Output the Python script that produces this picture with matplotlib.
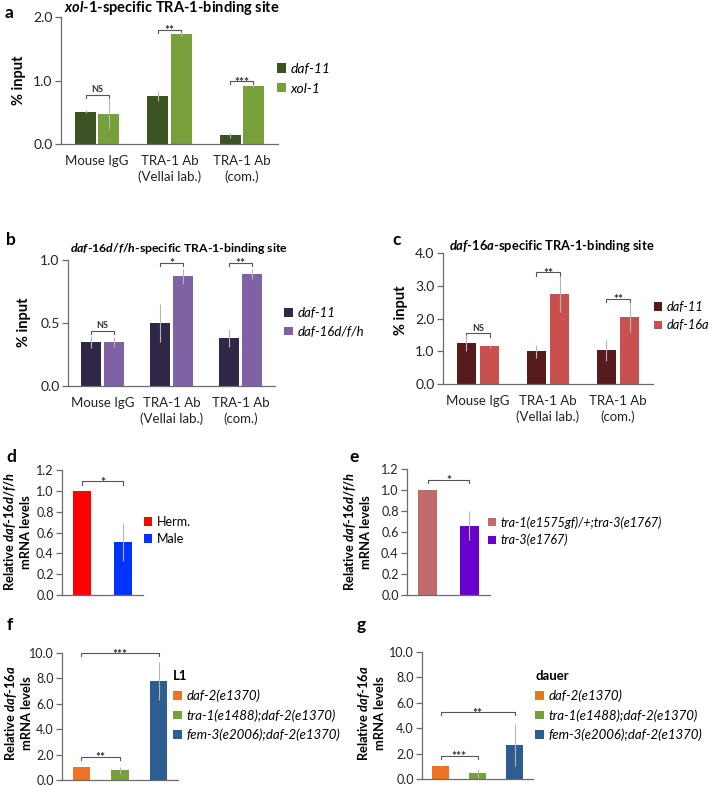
import matplotlib
matplotlib.use("Agg")
import matplotlib.pyplot as plt
from matplotlib.patches import Patch
import numpy as np

plt.rcParams['font.family'] = ['Lato', 'DejaVu Sans']
plt.rcParams['mathtext.fontset'] = 'custom'
plt.rcParams['mathtext.rm'] = 'Lato:bold'
plt.rcParams['mathtext.bf'] = 'Lato:bold'
plt.rcParams['mathtext.it'] = 'Lato:italic:bold'

W, H = 709, 786

# ---- data ----
chip_groups = ["Mouse IgG", "TRA-1 Ab\n(Vellai lab.)", "TRA-1 Ab\n(com.)"]

# a: xol-1 site
a_daf11 = [0.51, 0.75, 0.14]
a_daf11_err = [0.02, 0.08, 0.04]
a_xol1 = [0.48, 1.73, 0.92]
a_xol1_err = [0.24, 0.03, 0.03]
a_sig = ["NS", "**", "***"]
a_sig_y = [0.77, 1.80, 0.99]

# b: daf-16d/f/h site
b_daf11 = [0.35, 0.50, 0.38]
b_daf11_err = [0.05, 0.15, 0.07]
b_daf16 = [0.35, 0.87, 0.89]
b_daf16_err = [0.04, 0.06, 0.04]
b_sig = ["NS", "*", "**"]
b_sig_y = [0.435, 0.98, 0.98]

# c: daf-16a site
c_daf11 = [1.25, 1.00, 1.03]
c_daf11_err = [0.25, 0.20, 0.32]
c_daf16a = [1.15, 2.75, 2.05]
c_daf16a_err = [0.05, 0.55, 0.45]
c_sig = ["NS", "**", "**"]
c_sig_y = [1.55, 3.41, 2.61]

# d: herm vs male
d_labels = ["Herm.", "Male"]
d_vals = [1.0, 0.51]
d_err = [0.0, 0.18]
d_sig_y = 1.09

# e: tra-1 gf
e_labels = ["tra-1(e1575gf)/+;tra-3(e1767)", "tra-3(e1767)"]
e_vals = [1.0, 0.66]
e_err = [0.0, 0.14]
e_sig_y = 1.10

# f, g: daf-16a mRNA
fg_labels = ["daf-2(e1370)", "tra-1(e1488);daf-2(e1370)", "fem-3(e2006);daf-2(e1370)"]
f_vals = [1.0, 0.75, 7.8]
f_err = [0.0, 0.30, 1.5]
f_sig = [("**", 0, 1, 1.83), ("***", 0, 2, 10.0)]
g_vals = [1.0, 0.45, 2.7]
g_err = [0.05, 0.35, 1.65]
g_sig = [("***", 0, 1, 1.84), ("**", 0, 2, 5.28)]

AXC = '#6b6b6b'
ERRC = '#b5b5b5'


def px_axes(fig, left, top, right, bottom):
    return fig.add_axes([left / W, 1 - bottom / H, (right - left) / W, (bottom - top) / H])


def style(ax, ymax, step, ncat, fs=10):
    ax.set_ylim(0, ymax)
    ax.set_xlim(-0.5, ncat - 0.5)
    ticks = np.arange(0, ymax + step / 2, step)
    ax.set_yticks(ticks)
    ax.set_yticklabels(["%.1f" % v for v in ticks], fontsize=fs, color='#222222')
    for s in ['top', 'right']:
        ax.spines[s].set_visible(False)
    for s in ['left', 'bottom']:
        ax.spines[s].set_color(AXC)
        ax.spines[s].set_linewidth(0.9)
    ax.tick_params(axis='y', direction='out', length=4, width=0.9, color=AXC, pad=2)
    ax.tick_params(axis='x', length=0, pad=8)


def bracket(ax, x1, x2, y, label, drop, fs=6.5):
    ax.plot([x1, x1, x2, x2], [y - drop, y, y, y - drop], color='#555555', lw=0.8, clip_on=False)
    if label == "NS":
        ax.annotate(label, ((x1 + x2) / 2, y), xytext=(0, 0.5), textcoords='offset points',
                    ha='center', va='bottom', fontsize=fs, fontweight='bold', color='#333333',
                    annotation_clip=False)
    else:
        ax.annotate(label, ((x1 + x2) / 2, y), xytext=(0, -3.3), textcoords='offset points',
                    ha='center', va='baseline', fontsize=fs + 2, fontweight='bold', color='#333333',
                    annotation_clip=False)


def chip_panel(ax, v1, e1, v2, e2, c1, c2, sig, sig_y, ymax, step, width, off):
    x = np.arange(3)
    ax.bar(x - off, v1, width, color=c1, zorder=2)
    ax.bar(x + off, v2, width, color=c2, zorder=2)
    ax.errorbar(x - off, v1, yerr=e1, fmt='none', ecolor=ERRC, elinewidth=0.8, capsize=0, zorder=3)
    ax.errorbar(x + off, v2, yerr=e2, fmt='none', ecolor=ERRC, elinewidth=0.8, capsize=0, zorder=3)
    style(ax, ymax, step, 3)
    ax.set_xticks(x)
    ax.set_xticklabels(chip_groups, fontsize=9.5, color='#222222', linespacing=1.35)
    for i in range(3):
        bracket(ax, i - off, i + off, sig_y[i], sig[i], ymax * 0.025)


def legend_at(ax, fig, colors, labels, px, py, fs=9.5, italic=True, title=None, spacing=0.45):
    handles = [Patch(facecolor=c, edgecolor='none') for c in colors]
    prop = {'size': fs, 'style': 'italic' if italic else 'normal'}
    leg = ax.legend(handles, labels, loc='upper left', bbox_to_anchor=(px / W, 1 - py / H),
                    bbox_transform=fig.transFigure, frameon=False, handlelength=0.65,
                    handleheight=0.65, handletextpad=0.35, labelspacing=spacing, borderpad=0,
                    borderaxespad=0, prop=prop, title=title, alignment='left',
                    title_fontproperties={'size': fs, 'weight': 'bold'})
    return leg


fig = plt.figure(figsize=(W / 100, H / 100), dpi=100)

# ---------- panel a ----------
ax = px_axes(fig, 61, 17, 278, 144)
chip_panel(ax, a_daf11, a_daf11_err, a_xol1, a_xol1_err, '#3b5323', '#77a03a',
           a_sig, a_sig_y, 2.0, 1.0, 0.29, 0.16)
legend_at(ax, fig, ['#3b5323', '#77a03a'], ['daf-11', 'xol-1'], 277, 63, fs=10, spacing=0.55)
fig.text(172 / W, 1 - 8 / H, r"$\mathit{xol}$-$\mathit{1}$-specific TRA-1-binding site",
         ha='center', va='center', fontsize=10.5, fontweight='bold')
fig.text(19 / W, 1 - 80 / H, "% input", rotation=90, ha='center', va='center',
         fontsize=10.5, fontweight='bold')

# ---------- panel b ----------
ax = px_axes(fig, 68, 260, 275, 386)
chip_panel(ax, b_daf11, b_daf11_err, b_daf16, b_daf16_err, '#2f2745', '#7f62a4',
           b_sig, b_sig_y, 1.0, 0.5, 0.28, 0.165)
legend_at(ax, fig, ['#2f2745', '#7f62a4'], ['daf-11', 'daf-16d/f/h'], 284, 307, spacing=0.5)
fig.text(179 / W, 1 - 248 / H, r"$\mathit{daf}$-$\mathit{16d/f/h}$-specific TRA-1-binding site",
         ha='center', va='center', fontsize=8.8, fontweight='bold')
fig.text(24 / W, 1 - 322 / H, "% input", rotation=90, ha='center', va='center',
         fontsize=10.5, fontweight='bold')

# ---------- panel c ----------
ax = px_axes(fig, 443, 253, 653, 384)
chip_panel(ax, c_daf11, c_daf11_err, c_daf16a, c_daf16a_err, '#581b1d', '#c8514f',
           c_sig, c_sig_y, 4.0, 1.0, 0.27, 0.165)
legend_at(ax, fig, ['#581b1d', '#c8514f'], ['daf-11', 'daf-16a'], 654, 301, fs=9.2, spacing=0.5)
fig.text(552 / W, 1 - 246 / H, r"$\mathit{daf}$-$\mathit{16a}$-specific TRA-1-binding site",
         ha='center', va='center', fontsize=9.3, fontweight='bold')
fig.text(401 / W, 1 - 310 / H, "% input", rotation=90, ha='center', va='center',
         fontsize=10.5, fontweight='bold')

# ---------- panel d ----------
ax = px_axes(fig, 62, 470, 143, 595)
x = np.arange(2)
ax.bar(x, d_vals, 0.45, color=['#ff0000', '#0033ff'], zorder=2)
ax.errorbar(x, d_vals, yerr=d_err, fmt='none', ecolor=ERRC, elinewidth=0.8, capsize=0, zorder=3)
style(ax, 1.2, 0.2, 2, fs=9)
ax.set_xticks([])
bracket(ax, 0, 1, d_sig_y, "*", 0.03)
legend_at(ax, fig, ['#ff0000', '#0033ff'], d_labels, 144, 516, fs=9, italic=False, spacing=0.4)
fig.text(17 / W, 1 - 532 / H, "Relative $\\mathit{daf}$-$\\mathit{16d/f/h}$\nmRNA levels",
         rotation=90, ha='center', va='center', fontsize=9.3, fontweight='bold',
         multialignment='center', linespacing=1.25)

# ---------- panel e ----------
ax = px_axes(fig, 407, 469, 490, 595)
ax.bar(x, e_vals, 0.45, color=['#c06b6b', '#6a00cc'], zorder=2)
ax.errorbar(x, e_vals, yerr=e_err, fmt='none', ecolor=ERRC, elinewidth=0.8, capsize=0, zorder=3)
style(ax, 1.2, 0.2, 2, fs=9)
ax.set_xticks([])
bracket(ax, 0, 1, e_sig_y, "*", 0.03)
legend_at(ax, fig, ['#c06b6b', '#6a00cc'], e_labels, 488, 516, fs=9, spacing=0.4)
fig.text(357 / W, 1 - 532 / H, "Relative $\\mathit{daf}$-$\\mathit{16d/f/h}$\nmRNA levels",
         rotation=90, ha='center', va='center', fontsize=9.3, fontweight='bold',
         multialignment='center', linespacing=1.25)

# ---------- panels f, g ----------
fg_colors = ['#ec7424', '#77a03a', '#2e5d91']
x3 = np.arange(3)
for (l, t, r, b), vals, errs, sigs, title, lx, ly_px, ylx in [
        ((62, 653, 178, 780), f_vals, f_err, f_sig, 'L1', 173, 670, 18),
        ((422, 652, 533, 779), g_vals, g_err, g_sig, 'dauer', 535, 670, 371)]:
    ax = px_axes(fig, l, t, r, b)
    ax.bar(x3, vals, 0.45, color=fg_colors, zorder=2)
    ax.errorbar(x3, vals, yerr=errs, fmt='none', ecolor=ERRC, elinewidth=0.8, capsize=0, zorder=3)
    style(ax, 10.0, 2.0, 3, fs=9)
    ax.set_xticks([])
    for lab, i1, i2, yy in sigs:
        bracket(ax, i1, i2, yy, lab, 0.25)
    legend_at(ax, fig, fg_colors, fg_labels, lx, ly_px, fs=9.5, title=title, spacing=0.55)
    fig.text(ylx / W, 1 - 713 / H, "Relative $\\mathit{daf}$-$\\mathit{16a}$\nmRNA levels",
             rotation=90, ha='center', va='center', fontsize=9.3, fontweight='bold',
             multialignment='center', linespacing=1.25)

# panel letters
for letter, px, py in [('a', 9, 13), ('b', 11, 240), ('c', 397, 240), ('d', 11, 457),
                       ('e', 354, 457), ('f', 10, 625), ('g', 361, 625)]:
    fig.text(px / W, 1 - py / H, letter, ha='center', va='center', fontsize=12.5, fontweight='bold')

fig.savefig("out.png", dpi=100)
